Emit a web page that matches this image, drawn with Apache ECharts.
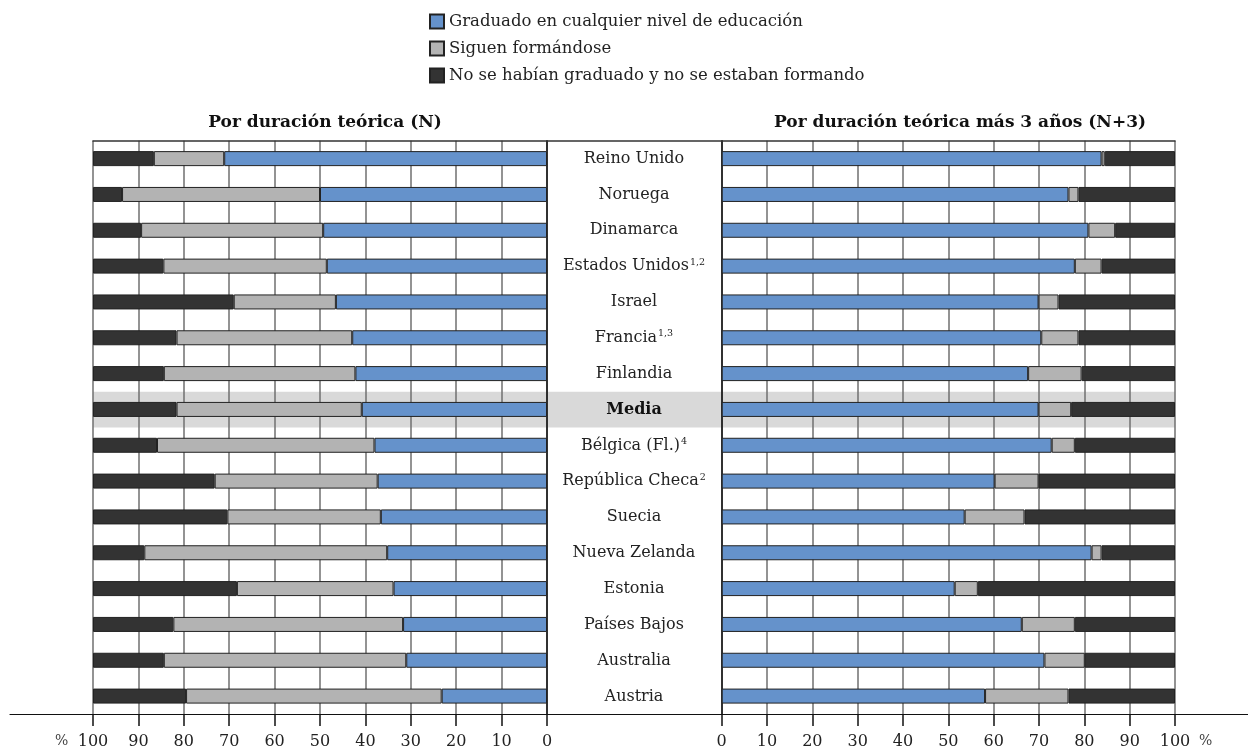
<!DOCTYPE html>
<html>
<head>
<meta charset="utf-8">
<script src="https://cdn.jsdelivr.net/npm/echarts@6/dist/echarts.min.js"></script>
<style>
  html, body { margin: 0; padding: 0; background: #fff; }
  #chart { width: 1248px; height: 750px; }
</style>
</head>
<body>
<div id="chart"></div>
<script>
// países (de arriba abajo)
var countries = ['Reino Unido', 'Noruega', 'Dinamarca', 'Estados Unidos', 'Israel', 'Francia', 'Finlandia', 'Media',
  'Bélgica (Fl.)', 'República Checa', 'Suecia', 'Nueva Zelanda', 'Estonia', 'Países Bajos', 'Australia', 'Austria'];
var notes = ['', '', '', '1,2', '', '1,3', '', '', '4', '2', '', '', '', '', '', ''];

var seriesNames = ['Graduado en cualquier nivel de educación', 'Siguen formándose', 'No se habían graduado y no se estaban formando'];
var colors = ['#6592cb', '#b3b3b3', '#333333'];

// Por duración teórica (N)
var gradN  = [71.1, 50.0, 49.3, 48.5, 46.5, 42.9, 42.2, 40.8, 38.0, 37.3, 36.6, 35.2, 33.8, 31.7, 31.0, 23.2];
var siguenN = [15.5, 43.6, 40.1, 36.0, 22.5, 38.7, 42.2, 40.8, 47.9, 35.9, 33.8, 53.5, 34.5, 50.6, 53.4, 56.3];
var noN    = [13.4, 6.4, 10.6, 15.5, 31.0, 18.4, 15.6, 18.4, 14.1, 26.8, 29.6, 11.3, 31.7, 17.7, 15.6, 20.5];

// Por duración teórica más 3 años (N+3)
var gradN3  = [83.8, 76.5, 80.9, 77.9, 69.9, 70.5, 67.6, 69.9, 72.8, 60.2, 53.6, 81.6, 51.4, 66.2, 71.2, 58.1];
var siguenN3 = [0.7, 2.2, 5.9, 5.9, 4.4, 8.2, 11.8, 7.2, 5.1, 9.7, 13.2, 2.2, 5.1, 11.7, 8.9, 18.4];
var noN3    = [15.5, 21.3, 13.2, 16.2, 25.7, 21.3, 20.6, 22.9, 22.1, 30.1, 33.2, 16.2, 43.5, 22.1, 19.9, 23.5];

var titleN = 'Por duración teórica (N)';
var titleN3 = 'Por duración teórica más 3 años (N+3)';

var FONT = 'DejaVu Serif';
var TOP = 140.7, BOTTOM = 35.7;

// banda gris de la media
var bandColors = countries.map(function(c){ return c == 'Media' ? '#d9d9d9' : 'rgba(0,0,0,0)'; });

var chart = echarts.init(document.getElementById('chart'));

function barSeries(idx, gIdx, data, stack){
  return {
    name: seriesNames[idx],
    type: 'bar',
    stack: stack,
    xAxisIndex: gIdx,
    yAxisIndex: gIdx,
    barWidth: 15,
    data: data,
    itemStyle: { color: colors[idx], borderColor: '#222', borderWidth: 1 },
    emphasis: { disabled: true }
  };
}

var valueAxis = function(gIdx, inverse){
  return {
    type: 'value', gridIndex: gIdx, min: 0, max: 100, interval: 10, inverse: inverse,
    axisLine: { show: false },
    axisTick: { show: true, length: 12, lineStyle: { color: '#111', width: 1.5 } },
    axisLabel: { fontFamily: FONT, fontSize: 16, color: '#222', margin: 20 },
    splitLine: { show: true, lineStyle: { color: '#6f6f6f', width: 1.5 } }
  };
};

var option = {
  animation: false,
  textStyle: { fontFamily: FONT },
  title: [
    { text: titleN, left: 320, top: 109, textAlign: 'center',
      textStyle: { fontFamily: FONT, fontSize: 17, fontWeight: 'bold', color: '#111' } },
    { text: titleN3, left: 955, top: 109, textAlign: 'center',
      textStyle: { fontFamily: FONT, fontSize: 17, fontWeight: 'bold', color: '#111' } }
  ],
  legend: {
    orient: 'vertical', left: 424, top: 8,
    itemWidth: 14, itemHeight: 14, itemGap: 10,
    icon: 'rect',
    data: seriesNames,
    textStyle: { fontFamily: FONT, fontSize: 16.5, color: '#222' },
    selectedMode: false
  },
  grid: [
    { left: 93, right: 701, top: TOP, bottom: BOTTOM },        // izquierda
    { left: 721.7, right: 73, top: TOP, bottom: BOTTOM },      // derecha
    { left: 547, right: 526.3, top: TOP, bottom: BOTTOM },     // etiquetas
    { left: 93, right: 73, top: TOP, bottom: BOTTOM },         // banda media + línea superior
    { left: 10, right: 0, top: TOP, bottom: BOTTOM }           // línea inferior
  ],
  xAxis: [
    valueAxis(0, true),
    valueAxis(1, false),
    { type: 'value', gridIndex: 2, show: false, min: 0, max: 100 },
    { type: 'value', gridIndex: 3, position: 'top', min: 0, max: 100,
      axisLine: { show: true, lineStyle: { color: '#333', width: 1.5 } },
      axisTick: { show: false }, axisLabel: { show: false }, splitLine: { show: false } },
    { type: 'value', gridIndex: 4, position: 'bottom', min: 0, max: 100,
      axisLine: { show: true, lineStyle: { color: '#111', width: 1.2 } },
      axisTick: { show: false }, axisLabel: { show: false }, splitLine: { show: false } }
  ],
  yAxis: [
    { type: 'category', gridIndex: 0, data: countries, inverse: true,
      axisLine: { show: true, lineStyle: { color: '#111', width: 1.5 } },
      axisTick: { show: false }, axisLabel: { show: false } },
    { type: 'category', gridIndex: 1, data: countries, inverse: true,
      axisLine: { show: true, lineStyle: { color: '#111', width: 1.5 } },
      axisTick: { show: false }, axisLabel: { show: false } },
    { type: 'category', gridIndex: 2, data: countries, inverse: true,
      axisLine: { show: false }, axisTick: { show: false },
      axisLabel: {
        margin: -87, align: 'center', fontFamily: FONT, fontSize: 16, color: '#222',
        formatter: function(value, idx){
          if (value == 'Media') return '{b|Media}';
          return notes[idx] ? value + '{sup|' + notes[idx] + '}' : value;
        },
        rich: {
          b: { fontFamily: FONT, fontSize: 16, fontWeight: 'bold', color: '#111' },
          sup: { fontFamily: FONT, fontSize: 9.5, color: '#222', padding: [0, 0, 8, 1] }
        }
      } },
    { type: 'category', gridIndex: 3, data: countries, inverse: true, z: -1,
      axisLine: { show: false }, axisTick: { show: false }, axisLabel: { show: false },
      splitArea: { show: true, areaStyle: { color: bandColors } } },
    { type: 'category', gridIndex: 4, data: countries, inverse: true, show: false }
  ],
  series: [
    barSeries(0, 0, gradN, 'n'),
    barSeries(1, 0, siguenN, 'n'),
    barSeries(2, 0, noN, 'n'),
    barSeries(0, 1, gradN3, 'n3'),
    barSeries(1, 1, siguenN3, 'n3'),
    barSeries(2, 1, noN3, 'n3')
  ],
  graphic: [
    { type: 'text', left: 55, top: 734, style: { text: '%', fontFamily: FONT, fontSize: 14, fill: '#444' } },
    { type: 'text', left: 1199, top: 734, style: { text: '%', fontFamily: FONT, fontSize: 14, fill: '#444' } }
  ]
};

chart.setOption(option);
</script>
</body>
</html>
